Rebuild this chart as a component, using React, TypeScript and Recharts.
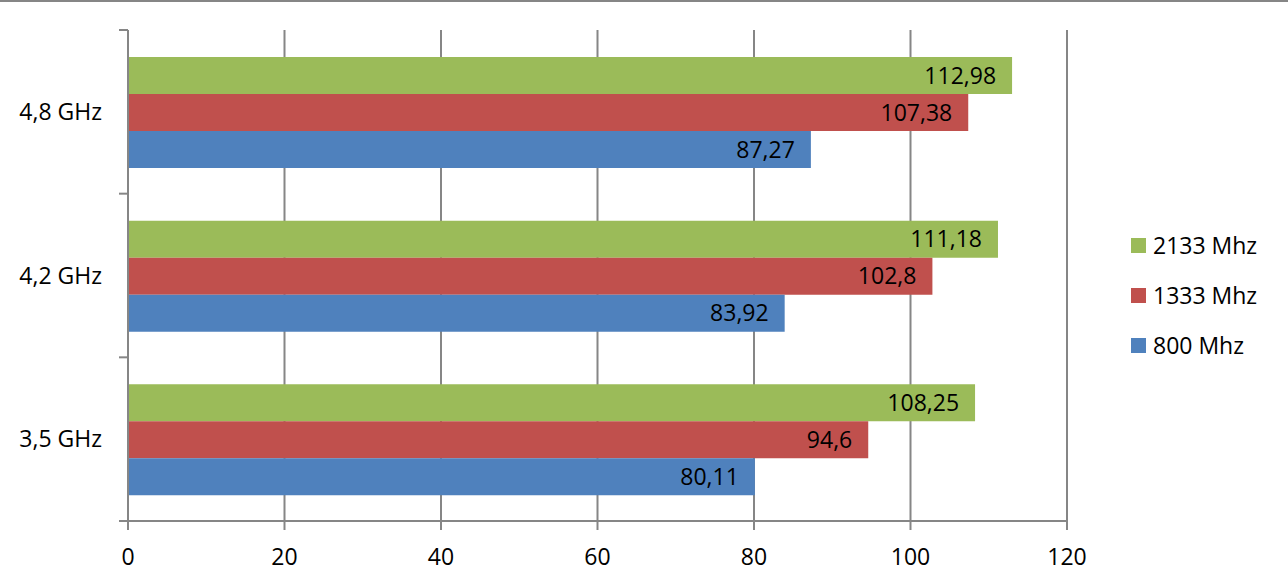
import { BarChart, Bar, XAxis, YAxis, CartesianGrid, LabelList, Legend } from "recharts";

const categories = ["4,8 GHz", "4,2 GHz", "3,5 GHz"];
const seriesNames = ["2133 Mhz", "1333 Mhz", "800 Mhz"];
const mhz2133 = [112.98, 111.18, 108.25];
const mhz1333 = [107.38, 102.8, 94.6];
const mhz800 = [87.27, 83.92, 80.11];
const xTicks = [0, 20, 40, 60, 80, 100, 120];

const GRAY = "#868686";
const FONT = "'Open Sans', sans-serif";
const FONT_SIZE = 23;
const TICK_SIZE = 9;
const TICK_MARGIN = 17;

const data = categories.map((name, i) => ({
    name,
    g: mhz2133[i],
    r: mhz1333[i],
    b: mhz800[i],
}));

const fmt = (v: any) => String(v).replace(".", ",");

// category ticks sit between the bands, like the spreadsheet did it
const CategoryTick = (props: any) => {
    const { x, y, payload, index, visibleTicksCount } = props;
    const half = payload.offset ?? 0;
    const axisX = x + TICK_MARGIN + TICK_SIZE;
    return (
        <g>
            <line x1={axisX - TICK_SIZE} x2={axisX} y1={y - half} y2={y - half} stroke={GRAY} strokeWidth={2} />
            {index === visibleTicksCount - 1 && (
                <line x1={axisX - TICK_SIZE} x2={axisX} y1={y + half} y2={y + half} stroke={GRAY} strokeWidth={2} />
            )}
            <text x={x} y={y} dy="0.355em" textAnchor="end" fill="#000" fontSize={FONT_SIZE} fontFamily={FONT}>
                {payload.value}
            </text>
        </g>
    );
};

// keep series order (recharts sorts legend items by name otherwise)
const renderLegend = (props: any) => {
    const items = [...props.payload].sort(
        (a: any, b: any) => seriesNames.indexOf(a.value) - seriesNames.indexOf(b.value)
    );
    return (
        <ul style={{ listStyle: "none", margin: 0, padding: 0 }}>
            {items.map((item: any) => (
                <li key={item.value} style={{ height: 50, display: "flex", alignItems: "center" }}>
                    <span style={{ width: 15, height: 15, background: item.color, display: "inline-block", marginRight: 7 }} />
                    <span style={{ fontSize: FONT_SIZE, fontFamily: FONT, color: "#000" }}>{item.value}</span>
                </li>
            ))}
        </ul>
    );
};

export default function App() {
    return (
        <div style={{ position: "absolute", top: 0, left: 0, width: 1288, height: 588, background: "#fff" }}>
            <div style={{ position: "absolute", top: 0, left: 0, width: 1288, height: 2, background: GRAY, zIndex: 2 }} />
            <BarChart
                width={1288}
                height={588}
                data={data}
                layout="vertical"
                margin={{ top: 30, right: 221, bottom: 0, left: 0 }}
                barCategoryGap={27}
                barGap={0}
                style={{ fontFamily: FONT }}
            >
                <CartesianGrid horizontal={false} stroke={GRAY} strokeWidth={2} />
                <XAxis
                    type="number"
                    domain={[0, 120]}
                    ticks={xTicks}
                    interval={0}
                    height={67}
                    tickSize={TICK_SIZE}
                    tickMargin={19}
                    stroke={GRAY}
                    strokeWidth={2}
                    tick={{ fill: "#000", fontSize: FONT_SIZE, fontFamily: FONT }}
                />
                <YAxis
                    type="category"
                    dataKey="name"
                    width={128}
                    tickLine={false}
                    tickSize={TICK_SIZE}
                    tickMargin={TICK_MARGIN}
                    stroke={GRAY}
                    strokeWidth={2}
                    tick={CategoryTick}
                    interval={0}
                />
                <Legend
                    layout="vertical"
                    align="center"
                    verticalAlign="middle"
                    wrapperStyle={{ top: 220, left: 1131, width: 150 }}
                    content={renderLegend}
                />
                <Bar dataKey="g" name={seriesNames[0]} fill="#9BBB59" isAnimationActive={false}>
                    <LabelList dataKey="g" position="insideRight" offset={16} formatter={fmt} fill="#000" fontSize={FONT_SIZE} fontFamily={FONT} />
                </Bar>
                <Bar dataKey="r" name={seriesNames[1]} fill="#C0504D" isAnimationActive={false}>
                    <LabelList dataKey="r" position="insideRight" offset={16} formatter={fmt} fill="#000" fontSize={FONT_SIZE} fontFamily={FONT} />
                </Bar>
                <Bar dataKey="b" name={seriesNames[2]} fill="#4F81BD" isAnimationActive={false}>
                    <LabelList dataKey="b" position="insideRight" offset={16} formatter={fmt} fill="#000" fontSize={FONT_SIZE} fontFamily={FONT} />
                </Bar>
            </BarChart>
        </div>
    );
}
